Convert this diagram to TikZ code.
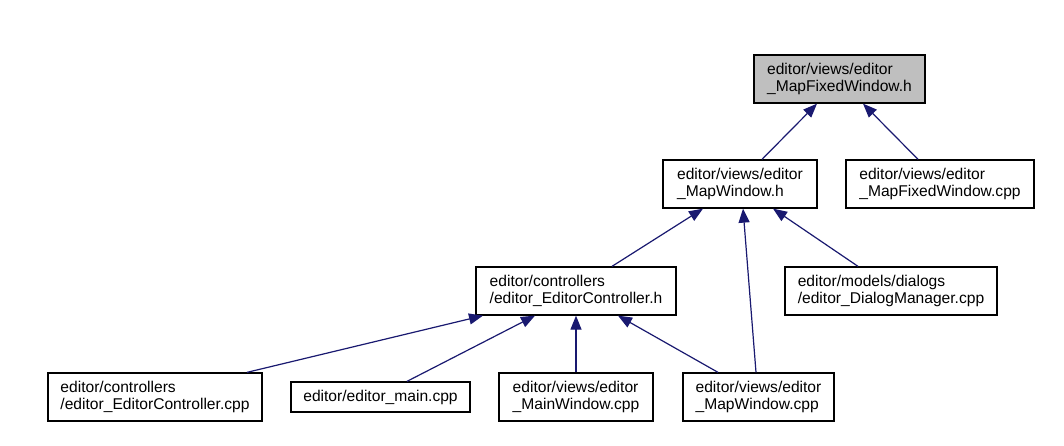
\documentclass[tikz,border=0pt]{standalone}
\usepackage{fontspec}
\setmainfont{Liberation Sans}
\usetikzlibrary{arrows.meta, positioning}
\definecolor{Edge}{HTML}{191970}
\definecolor{Root}{HTML}{BFBFBF}
\definecolor{Paper}{HTML}{FFFFFF}
\tikzset{
    filenode/.style={rectangle, draw=black, line width=1.3pt, fill=Paper, align=left, inner sep=0pt, minimum height=48pt, font=\fontsize{15.6}{17.5}\selectfont},
    rootnode/.style={filenode, fill=Root},
    incl/.style={-{Triangle[length=14pt, width=11pt]}, line width=1.2pt, color=Edge},
}

\begin{document}
\begin{tikzpicture}[x=1pt, y=-1pt]
    \fill[Paper] (0,0) rectangle (1064,446);
    \useasboundingbox (0,0) rectangle (1064,446);

    % Header being included
    \node[rootnode, minimum width=171pt] (fixedh) at (839.5,79) {editor/views/editor\\\_MapFixedWindow.h};

    % Second level
    \node[filenode, minimum width=154pt] (mapwinh) at (740,184) {editor/views/editor\\\_MapWindow.h};
    \node[filenode, minimum width=188pt] (fixedcpp) at (940,184) {editor/views/editor\\\_MapFixedWindow.cpp};

    % Third level
    \node[filenode, minimum width=200pt] (ctrlh) at (576,291) {editor/controllers\\/editor\_EditorController.h};
    \node[filenode, minimum width=212pt] (dialogcpp) at (891,291) {editor/models/dialogs\\/editor\_DialogManager.cpp};

    % Bottom row
    \node[filenode, minimum width=214pt] (ctrlcpp) at (155,397) {editor/controllers\\/editor\_EditorController.cpp};
    \node[filenode, minimum width=179pt, minimum height=30pt] (maincpp) at (380.5,397) {editor/editor\_main.cpp};
    \node[filenode, minimum width=154pt] (mainwincpp) at (576,397) {editor/views/editor\\\_MainWindow.cpp};
    \node[filenode, minimum width=151pt] (mapwincpp) at (758.5,397) {editor/views/editor\\\_MapWindow.cpp};

    % Include edges
    \draw[incl] ([xshift=22pt]mapwinh.north) -- ([xshift=-22.5pt]fixedh.south);
    \draw[incl] ([xshift=-22pt]fixedcpp.north) -- ([xshift=23.5pt]fixedh.south);
    \draw[incl] ([xshift=36pt]ctrlh.north) -- ([xshift=-37pt]mapwinh.south);
    \draw[incl] ([xshift=-2.5pt]mapwincpp.north) -- ([xshift=3pt]mapwinh.south);
    \draw[incl] ([xshift=-33pt]dialogcpp.north) -- ([xshift=33pt]mapwinh.south);
    \draw[incl] ([xshift=92pt]ctrlcpp.north) -- ([xshift=-93pt]ctrlh.south);
    \draw[incl] ([xshift=26.5pt]maincpp.north) -- ([xshift=-41pt]ctrlh.south);
    \draw[incl] (mainwincpp.north) -- (ctrlh.south);
    \draw[incl] ([xshift=-40.5pt]mapwincpp.north) -- ([xshift=42pt]ctrlh.south);
\end{tikzpicture}
\end{document}
